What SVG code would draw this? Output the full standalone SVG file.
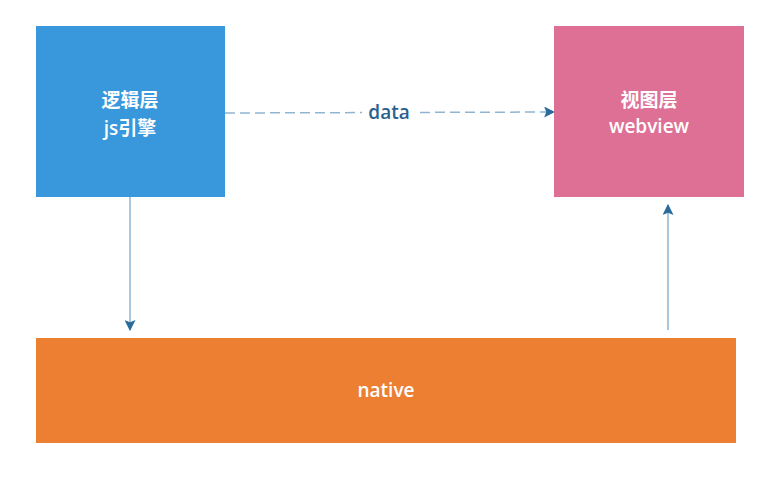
<svg xmlns="http://www.w3.org/2000/svg" width="784" height="482" viewBox="0 0 784 482">
<style>
.lbl{font-family:"Open Sans","Noto Sans CJK SC",sans-serif;font-size:19px;font-weight:600;fill:#fff;text-anchor:middle}
.edge{fill:none;stroke:#8fb5d2;stroke-width:1.5}
.elbl{font-family:"Open Sans",sans-serif;font-size:19px;font-weight:600;fill:#2a618e;text-anchor:middle}
</style>
<defs>
<marker id="ah" viewBox="0 0 10 10" refX="9" refY="5" markerWidth="11" markerHeight="11" markerUnits="userSpaceOnUse" orient="auto">
<path d="M0,0 L10,5 L0,10 L2,5 Z" fill="#2a6b9c"/>
</marker>
</defs>
<rect width="784" height="482" fill="#fff"/>
<g id="edges">
<path class="edge" d="M225,113 L554,112" stroke-dasharray="10,5" marker-end="url(#ah)"/>
<rect x="362" y="100" width="54" height="24" fill="#fff"/>
<text class="elbl" x="389" y="119">data</text>
<path class="edge" d="M130,197 L130,330" marker-end="url(#ah)"/>
<path class="edge" d="M668,330 L668,205" marker-end="url(#ah)"/>
</g>
<g id="logic">
<rect x="36" y="26" width="189" height="171" fill="#3898db"/>
<text class="lbl" x="130" y="107">逻辑层</text>
<text class="lbl" x="130" y="135">js引擎</text>
</g>
<g id="view">
<rect x="554" y="26" width="190" height="171" fill="#dd7094"/>
<text class="lbl" x="649" y="107">视图层</text>
<text class="lbl" x="649" y="133">webview</text>
</g>
<g id="native">
<rect x="36" y="338" width="700" height="105" fill="#ed7f33"/>
<text class="lbl" x="386" y="397">native</text>
</g>
</svg>
